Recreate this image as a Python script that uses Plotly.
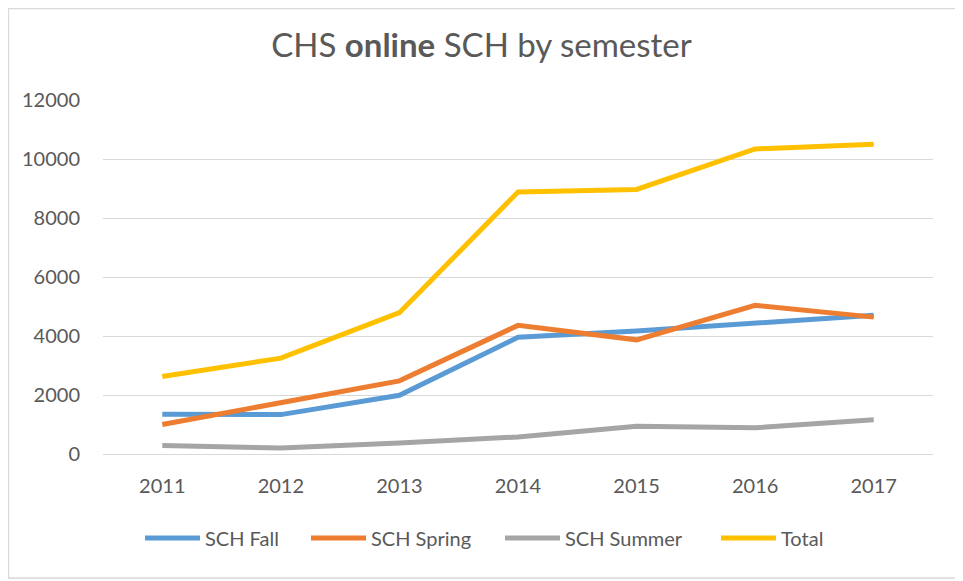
import plotly.graph_objects as go

years = ["2011", "2012", "2013", "2014", "2015", "2016", "2017"]
sch_fall = [1345, 1335, 1990, 3955, 4170, 4420, 4700]
sch_spring = [1000, 1740, 2480, 4360, 3870, 5040, 4640]
sch_summer = [285, 200, 370, 580, 940, 890, 1160]
total = [2630, 3250, 4790, 8880, 8970, 10340, 10500]

series = [
    ("SCH Fall", sch_fall, "#5B9BD5"),
    ("SCH Spring", sch_spring, "#ED7D31"),
    ("SCH Summer", sch_summer, "#A5A5A5"),
    ("Total", total, "#FFC000"),
]

font = "Lato, 'Open Sans', sans-serif"
grey_text = "#595959"
# page body adds an 8px margin, so the figure is a little smaller than the window
W, H = 955, 573
L, R, T, B = 95, 30, 92, 127
pw, ph = W - L - R, H - T - B

# one legend per series so the entries sit where Excel spaced them
legend_px = [132, 298, 492, 708]

fig = go.Figure()
layout_legends = {}
for i, (name, vals, color) in enumerate(series):
    key = "legend" if i == 0 else f"legend{i + 1}"
    fig.add_trace(go.Scatter(
        x=years, y=vals, name=name, mode="lines",
        line=dict(color=color, width=5), legend=key,
    ))
    layout_legends[key] = dict(
        orientation="h", x=(legend_px[i] - L) / pw, xanchor="left",
        y=-84 / ph, yanchor="middle", bgcolor="rgba(0,0,0,0)",
        font=dict(size=20, color=grey_text), itemwidth=55,
    )

fig.update_layout(
    width=W, height=H,
    margin=dict(l=L, r=R, t=T, b=B),
    paper_bgcolor="white", plot_bgcolor="white",
    font=dict(family=font, size=20, color=grey_text),
    title=dict(text="CHS <b>online</b> SCH by semester", x=0.5 - 4 / W,
               xanchor="center", y=1 - 37 / H, yanchor="middle",
               font=dict(size=33, color=grey_text)),
    showlegend=True,
    **layout_legends,
)
fig.update_xaxes(type="category", range=[-0.5, 6.5], showgrid=False,
                 showline=False, ticks="", ticklabelstandoff=18)
fig.update_yaxes(range=[0, 12000], dtick=2000, tickformat="d", showgrid=True,
                 gridcolor="#D9D9D9", gridwidth=1.3, zeroline=True,
                 zerolinecolor="#D9D9D9", zerolinewidth=1.3,
                 showline=False, ticks="", ticklabelstandoff=22)

# thin frame round the chart
fig.add_shape(type="rect", xref="paper", yref="paper",
              x0=(0.5 - L) / pw, x1=(W - 1 - L) / pw,
              y0=-(B - 3) / ph, y1=1 + (T - 0.5) / ph,
              line=dict(color="#D9D9D9", width=1.3))

fig.write_html("out.html")
